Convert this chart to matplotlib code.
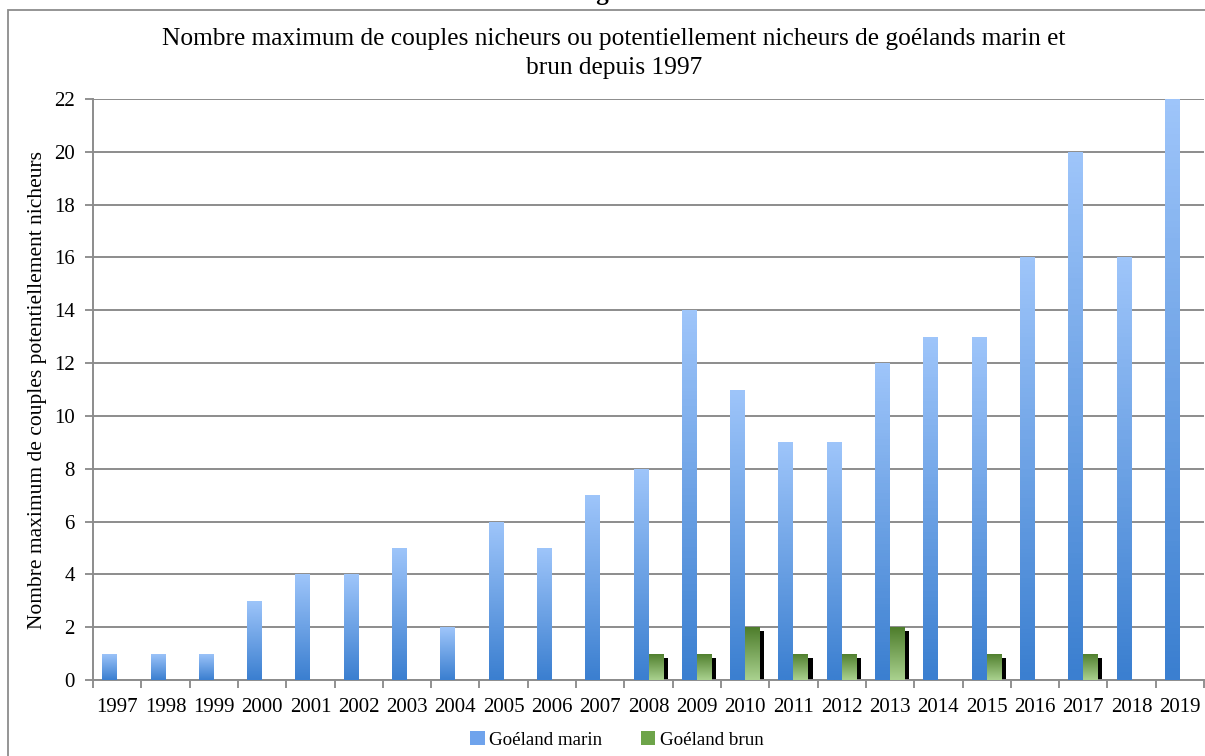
import numpy as np
import matplotlib
matplotlib.use("Agg")
import matplotlib.pyplot as plt
import matplotlib.patheffects as pe
from matplotlib.colors import LinearSegmentedColormap
from matplotlib.patches import Patch, Rectangle

# ------------------------------
# données
# ------------------------------
years = [str(y) for y in range(1997, 2020)]
marin = [1, 1, 1, 3, 4, 4, 5, 2, 6, 5, 7, 8, 14, 11, 9, 9, 12, 13, 13, 16, 20, 16, 22]
brun = [0, 0, 0, 0, 0, 0, 0, 0, 0, 0, 0, 1, 1, 2, 1, 1, 2, 0, 1, 0, 1, 0, 0]

plt.rcParams['font.family'] = ['Liberation Serif', 'DejaVu Serif']

blue_cmap = LinearSegmentedColormap.from_list('bleu', ['#3B7FD0', '#9EC5FA'])
green_cmap = LinearSegmentedColormap.from_list('vert', ['#A9D18E', '#4E7D2C'])

fig = plt.figure(figsize=(12.05, 7.56), dpi=100)
ax = fig.add_axes([0.0772, 0.1005, 0.922, 0.7685])

x = np.arange(len(years))
w = 0.31
grad = np.linspace(0, 1, 100).reshape(-1, 1)


def gradient_bars(xpos, vals, cmap, shadow=False):
    effects = None
    if shadow:
        effects = [pe.SimplePatchShadow(offset=(3, -3), shadow_rgbFace='black', alpha=1.0)]
    bars = ax.bar(xpos, vals, width=w, align='edge', color='none', edgecolor='none',
                  zorder=2, path_effects=effects)
    for b in bars:
        h = b.get_height()
        if h <= 0:
            continue
        im = ax.imshow(grad, extent=[b.get_x(), b.get_x() + b.get_width(), 0, h],
                       origin='lower', aspect='auto', cmap=cmap, zorder=3)
        im.set_clip_path(b)
    return bars


gradient_bars(x - w, marin, blue_cmap)
gradient_bars(x, brun, green_cmap, shadow=True)

ax.set_xlim(-0.5, len(years) - 0.5)
ax.set_ylim(0, 22)
ax.set_yticks(np.arange(0, 23, 2))
ax.set_xticks(x)
ax.set_xticklabels(years)
ax.set_xticks(np.arange(-0.5, len(years), 1), minor=True)
ax.tick_params(axis='x', which='major', length=0, labelsize=15, pad=13)
ax.tick_params(axis='x', which='minor', length=6, color='#888888', width=1.3)
ax.tick_params(axis='y', length=6, color='#888888', width=1.3, labelsize=15, pad=7)
ax.grid(axis='y', color='#8c8c8c', linewidth=1.4, zorder=1)
ax.set_axisbelow(True)
for s in ['top', 'right']:
    ax.spines[s].set_visible(False)
for s in ['left', 'bottom']:
    ax.spines[s].set_color('#8c8c8c')
    ax.spines[s].set_linewidth(1.4)

ax.set_ylabel('Nombre maximum de couples potentiellement nicheurs', fontsize=15.5, labelpad=5)

fig.text(0.5095, 0.9295,
         'Nombre maximum de couples nicheurs ou potentiellement nicheurs de goélands marin et\nbrun depuis 1997',
         ha='center', va='center', fontsize=18.3, linespacing=1.42)

# cadre du graphique et titre "Figure 3" coupé en haut
fig.add_artist(Rectangle((8 / 1205, -0.05), 1.2, 1 - 10 / 756 + 0.05, transform=fig.transFigure,
                         fill=False, edgecolor='#8c8c8c', linewidth=1.3))
fig.text(0.513, 1 - 5 / 756, 'Figure 3', ha='center', va='bottom', fontsize=18, fontweight='bold')

handles = [Patch(facecolor='#6FA3EC', label='Goéland marin'),
           Patch(facecolor='#6DA449', label='Goéland brun')]
fig.legend(handles=handles, loc='center', bbox_to_anchor=(0.512, 0.021), ncol=2, frameon=False,
           fontsize=13.7, handlelength=0.75, handleheight=0.75, handletextpad=0.25, columnspacing=2.0)

fig.savefig('out.png', dpi=100)
